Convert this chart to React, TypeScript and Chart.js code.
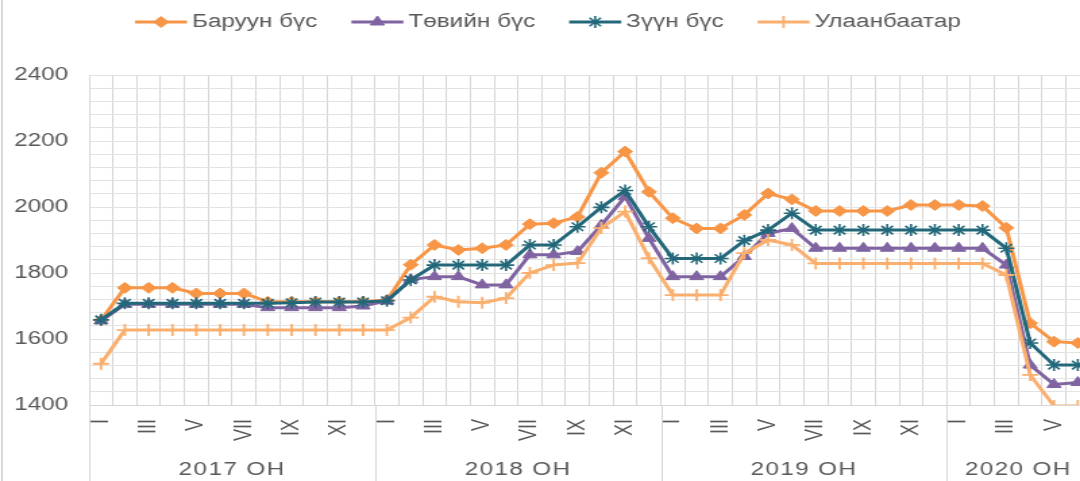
import React, { useEffect, useRef } from 'react';
import { Chart, registerables } from 'chart.js';

Chart.register(...registerables);

// ---------- data ----------
const MONTHS = ['I', 'II', 'III', 'IV', 'V', 'VI', 'VII', 'VIII', 'IX', 'X', 'XI', 'XII'];
const YEARS = ['2017 ОН', '2018 ОН', '2019 ОН', '2020 ОН'];
const YEAR_MONTHS = [12, 12, 12, 6];
const categories: string[] = YEAR_MONTHS.flatMap((n) => MONTHS.slice(0, n));

const SERIES_NAMES = ['Баруун бүс', 'Төвийн бүс', 'Зүүн бүс', 'Улаанбаатар'];

const baruun = [
  1657, 1755, 1755, 1755, 1738, 1738, 1738, 1713, 1713, 1713, 1713, 1713,
  1718, 1825, 1885, 1870, 1875, 1885, 1948, 1951, 1970, 2104, 2168, 2046,
  1966, 1935, 1935, 1976, 2041, 2023, 1988, 1988, 1988, 1988, 2006, 2006,
  2006, 2003, 1937, 1648, 1592, 1588,
];
const tov = [
  1655, 1705, 1705, 1705, 1705, 1705, 1705, 1695, 1695, 1695, 1695, 1700,
  1715, 1780, 1789, 1789, 1764, 1764, 1855, 1855, 1865, 1945, 2031, 1905,
  1789, 1789, 1789, 1850, 1920, 1935, 1875, 1875, 1875, 1875, 1875, 1875,
  1875, 1875, 1824, 1521, 1462, 1468,
];
const zuun = [
  1658, 1708, 1708, 1708, 1708, 1708, 1708, 1708, 1710, 1712, 1712, 1712,
  1716, 1779, 1824, 1824, 1824, 1824, 1885, 1885, 1940, 1999, 2050, 1940,
  1844, 1844, 1844, 1898, 1930, 1981, 1930, 1930, 1930, 1930, 1930, 1930,
  1930, 1930, 1875, 1588, 1521, 1521,
];
const ub = [
  1525, 1627, 1627, 1627, 1627, 1627, 1627, 1627, 1627, 1627, 1627, 1627,
  1627, 1665, 1728, 1713, 1710, 1724, 1800, 1824, 1830, 1936, 1986, 1845,
  1733, 1733, 1733, 1860, 1900, 1885, 1829, 1829, 1829, 1829, 1829, 1829,
  1829, 1829, 1794, 1491, 1397, 1397,
];

const Y_MIN = 1400;
const Y_MAX = 2400;
const Y_STEP = 40;
const Y_LABEL_STEP = 200;

// ---------- styles ----------
const S = 1.35; // horizontal stretch of the whole picture
const FINAL_W = 1100;
const W = Math.round(FINAL_W / S);
const H = 481;
const FONT = '"Liberation Sans", Arial, sans-serif';
const TEXT = '#595959';
const GRID_X = '#d6d6d6';
const GRID_Y = '#e3e3e3';
const COLORS = ['#F79646', '#8064A2', '#23687A', '#FAAF6E'];
const STYLES = ['rectRot', 'triangle', 'star', 'cross'];
const RADII = [5.5, 6, 6, 6];
const PBW = [1, 1, 1.6, 1.8];

function drawMarker(ctx: CanvasRenderingContext2D, style: string, x: number, y: number, r: number, color: string, bw: number) {
  ctx.save();
  ctx.fillStyle = color;
  ctx.strokeStyle = color;
  ctx.lineWidth = bw;
  ctx.beginPath();
  if (style === 'rectRot') {
    ctx.moveTo(x, y - r);
    ctx.lineTo(x + r, y);
    ctx.lineTo(x, y + r);
    ctx.lineTo(x - r, y);
    ctx.closePath();
    ctx.fill();
    ctx.stroke();
  } else if (style === 'triangle') {
    let a = 0;
    ctx.moveTo(x + Math.sin(a) * r, y - Math.cos(a) * r);
    a += (2 * Math.PI) / 3;
    ctx.lineTo(x + Math.sin(a) * r, y - Math.cos(a) * r);
    a += (2 * Math.PI) / 3;
    ctx.lineTo(x + Math.sin(a) * r, y - Math.cos(a) * r);
    ctx.closePath();
    ctx.fill();
    ctx.stroke();
  } else if (style === 'star') {
    ctx.moveTo(x, y - r); ctx.lineTo(x, y + r);
    ctx.moveTo(x - r, y); ctx.lineTo(x + r, y);
    const d = r * Math.SQRT1_2;
    ctx.moveTo(x - d, y - d); ctx.lineTo(x + d, y + d);
    ctx.moveTo(x - d, y + d); ctx.lineTo(x + d, y - d);
    ctx.stroke();
  } else {
    ctx.moveTo(x, y - r); ctx.lineTo(x, y + r);
    ctx.moveTo(x - r, y); ctx.lineTo(x + r, y);
    ctx.stroke();
  }
  ctx.restore();
}

const overlayPlugin = {
  id: 'overlay',
  afterDraw(chart: any) {
    const ctx: CanvasRenderingContext2D = chart.ctx;
    const xs = chart.scales.x;
    const area = chart.chartArea;
    ctx.save();
    // group separators and year labels
    ctx.strokeStyle = GRID_X;
    ctx.lineWidth = 1;
    let start = 0;
    const bounds: number[] = [];
    YEAR_MONTHS.forEach((n) => {
      bounds.push(start);
      start += n;
    });
    bounds.push(start);
    bounds.forEach((b) => {
      const px = Math.round(xs.getPixelForValue(b - 0.5)) + 0.5;
      ctx.beginPath();
      ctx.moveTo(px, area.bottom);
      ctx.lineTo(px, H);
      ctx.stroke();
    });
    ctx.fillStyle = TEXT;
    ctx.font = `18px ${FONT}`;
    ctx.textAlign = 'center';
    ctx.textBaseline = 'middle';
    (ctx as any).letterSpacing = '1px';
    YEARS.forEach((label, i) => {
      const a = xs.getPixelForValue(bounds[i] - 0.5);
      const b = xs.getPixelForValue(bounds[i + 1] - 0.5);
      ctx.fillText(label, (a + b) / 2, 470);
    });
    (ctx as any).letterSpacing = '0px';

    // legend
    const ly = 22;
    let lx = 135 / S;
    const lineLen = 52 / S;
    const textGap = 5 / S;
    const itemGap = 34 / S;
    ctx.textAlign = 'left';
    SERIES_NAMES.forEach((name, i) => {
      ctx.strokeStyle = COLORS[i];
      ctx.lineWidth = 3;
      ctx.beginPath();
      ctx.moveTo(lx, ly);
      ctx.lineTo(lx + lineLen, ly);
      ctx.stroke();
      drawMarker(ctx, STYLES[i], lx + lineLen / 2, ly, RADII[i], COLORS[i], PBW[i]);
      const tx = lx + lineLen + textGap;
      ctx.fillStyle = TEXT;
      ctx.fillText(name, tx, ly);
      lx = tx + ctx.measureText(name).width + itemGap;
    });
    ctx.restore();
  },
};

export default function App() {
  const ref = useRef<HTMLCanvasElement | null>(null);
  useEffect(() => {
    if (!ref.current) return;
    const seriesData = [baruun, tov, zuun, ub];
    const chart = new Chart(ref.current, {
      type: 'line',
      data: {
        labels: categories,
        datasets: seriesData.map((d, i) => ({
          label: SERIES_NAMES[i],
          data: d,
          borderColor: COLORS[i],
          backgroundColor: COLORS[i],
          borderWidth: 3,
          pointStyle: STYLES[i] as any,
          pointRadius: RADII[i],
          pointBorderWidth: PBW[i],
          pointBackgroundColor: COLORS[i],
          pointBorderColor: COLORS[i],
          tension: 0,
          fill: false,
          order: 4 - i,
        })),
      },
      options: {
        animation: false,
        responsive: false,
        devicePixelRatio: 1,
        layout: { padding: { top: 75, right: 5, left: 0, bottom: 0 } },
        plugins: { legend: { display: false }, tooltip: { enabled: false } },
        scales: {
          x: {
            type: 'category',
            offset: true,
            grid: { offset: true, color: GRID_X, drawTicks: false, lineWidth: 1 },
            border: { color: GRID_X },
            ticks: {
              autoSkip: false,
              minRotation: 90,
              maxRotation: 90,
              padding: 14,
              color: TEXT,
              font: { family: FONT, size: 18 },
              callback: (_v: any, i: number) => (i % 2 === 0 ? categories[i] : ''),
            },
            afterFit: (s: any) => {
              s.height = 76;
              s.paddingLeft = 0;
              s.paddingRight = 0;
            },
          },
          y: {
            min: Y_MIN,
            max: Y_MAX,
            grid: { color: GRID_Y, drawTicks: false },
            border: { color: GRID_X },
            ticks: {
              autoSkip: false,
              stepSize: Y_STEP,
              padding: 15.5,
              color: TEXT,
              font: { family: FONT, size: 18 },
              callback: (v: any) => (Number(v) % Y_LABEL_STEP === 0 ? String(v) : ''),
            },
            afterFit: (s: any) => {
              s.width = 66;
              s.paddingTop = 0;
              s.paddingBottom = 0;
            },
          },
        },
      },
      plugins: [overlayPlugin],
    });
    return () => chart.destroy();
  }, []);

  return (
    <div style={{ position: 'fixed', left: 0, top: 0, width: 1080, height: H, overflow: 'hidden', background: '#fff' }}>
      <div style={{ position: 'absolute', left: 0, top: 0, width: W, height: H, transform: `scaleX(${S})`, transformOrigin: '0 0' }}>
        <canvas ref={ref} width={W} height={H} style={{ display: 'block', width: W, height: H }} />
      </div>
      <div style={{ position: 'absolute', left: 1, top: 0, width: 2, height: H, background: '#d9d9d9' }} />
    </div>
  );
}
